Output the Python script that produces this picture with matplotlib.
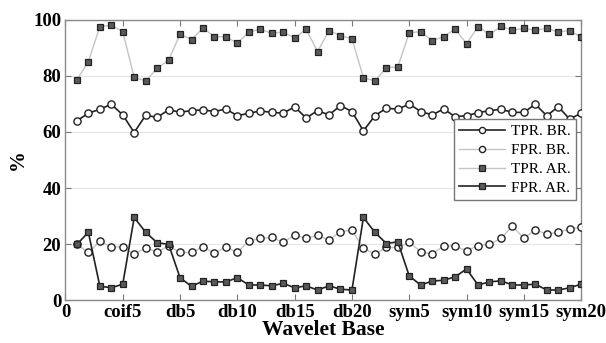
import matplotlib
matplotlib.use("Agg")
import matplotlib.pyplot as plt
import numpy as np

# x positions 1..45 (one point per wavelet)
x = np.arange(1, 46)

tick_pos = [0, 5, 10, 15, 20, 25, 30, 35, 40, 45]
tick_labels = ["0", "coif5", "db5", "db10", "db15", "db20", "sym5", "sym10", "sym15", "sym20"]

tpr_br = [64.0, 66.7, 68.1, 69.9, 66.1, 59.8, 66.0, 65.2, 67.9, 67.1,
          67.6, 67.9, 67.3, 68.2, 65.8, 66.7, 67.5, 67.0, 66.7, 69.0,
          65.0, 67.6, 66.1, 69.4, 67.3, 60.4, 65.8, 68.5, 68.1, 70.0,
          67.3, 66.1, 68.2, 65.5, 65.8, 66.9, 67.6, 68.1, 67.0, 67.0,
          69.9, 65.8, 69.0, 64.6, 66.7]

fpr_br = [19.9, 17.0, 21.0, 19.0, 19.0, 16.3, 18.7, 17.1, 19.4, 17.0,
          17.0, 19.0, 16.7, 19.0, 17.0, 21.1, 22.0, 22.4, 20.6, 23.2,
          22.0, 23.2, 21.4, 24.4, 25.0, 18.5, 16.4, 18.8, 18.8, 20.6,
          17.3, 16.4, 19.3, 19.3, 17.6, 19.4, 19.9, 22.0, 26.4, 22.1,
          25.0, 23.6, 24.2, 25.4, 26.0]

tpr_ar = [78.6, 85.1, 97.6, 98.1, 95.8, 79.5, 78.2, 82.7, 85.6, 94.9,
          93.0, 97.1, 94.0, 94.0, 91.7, 95.7, 96.7, 95.2, 95.7, 93.5,
          96.7, 88.7, 96.2, 94.4, 93.3, 79.4, 78.2, 82.9, 83.2, 95.4,
          95.8, 92.6, 94.0, 96.8, 91.5, 97.6, 94.8, 97.7, 96.3, 97.0,
          96.3, 97.0, 95.7, 96.2, 93.9]

fpr_ar = [19.9, 24.2, 5.0, 4.4, 5.7, 29.5, 24.2, 20.5, 19.9, 8.0,
          4.9, 6.8, 6.5, 6.5, 8.0, 5.4, 5.4, 5.1, 6.0, 4.4,
          5.1, 3.6, 5.1, 3.9, 3.6, 29.5, 24.2, 20.2, 20.8, 8.6,
          5.4, 6.8, 7.1, 8.3, 11.1, 5.4, 6.5, 6.9, 5.4, 5.4,
          5.7, 3.6, 3.6, 4.4, 5.7]

plt.rcParams["font.family"] = "Liberation Serif"

fig = plt.figure(figsize=(6.06, 3.43), dpi=100)
ax = fig.add_axes([0.108, 0.125, 0.851, 0.817])

dark = "#222222"
light = "#c4c4c4"
sq_fill = "#5a5a5a"

ax.plot(x, tpr_br, color=dark, lw=1.2, marker="o", ms=5.2, mfc="white", mec=dark, mew=1.0,
        label="TPR. BR.", zorder=4)
ax.plot(x, fpr_br, color=light, lw=1.0, marker="o", ms=5.2, mfc="white", mec=dark, mew=1.0,
        label="FPR. BR.", zorder=3)
ax.plot(x, tpr_ar, color=light, lw=1.0, marker="s", ms=4.6, mfc=sq_fill, mec=dark, mew=0.9,
        label="TPR. AR.", zorder=3)
ax.plot(x, fpr_ar, color=dark, lw=1.2, marker="s", ms=4.6, mfc=sq_fill, mec=dark, mew=0.9,
        label="FPR. AR.", zorder=5)

ax.set_xlim(0, 45)
ax.set_ylim(0, 100)
ax.set_xticks(tick_pos)
ax.set_xticklabels(tick_labels, fontweight="bold", fontsize=13.5)
ax.set_yticks([0, 20, 40, 60, 80, 100])
ax.set_yticklabels(["0", "20", "40", "60", "80", "100"], fontweight="bold", fontsize=13.5)
ax.tick_params(direction="in", top=True, right=True, length=4, color="#777777", pad=3)
ax.yaxis.grid(True, color="#e6e6e6", lw=0.8)
ax.set_axisbelow(True)
for s in ax.spines.values():
    s.set_color("#8a8a8a")
    s.set_linewidth(1.0)

ax.set_xlabel("Wavelet Base", fontweight="bold", fontsize=15.5, labelpad=-1)
ax.set_ylabel("%", fontweight="bold", fontsize=15)
ax.yaxis.set_label_coords(-0.072, 0.5)

leg = ax.legend(loc="upper left", bbox_to_anchor=(0.753, 0.645), fontsize=11, frameon=True,
                fancybox=False, edgecolor="#777777", framealpha=1, handlelength=3.0,
                markerscale=0.85, borderpad=0.35, labelspacing=0.33, handletextpad=0.4,
                borderaxespad=0)
leg.get_frame().set_linewidth(1.0)

fig.savefig("out.png", dpi=100)
